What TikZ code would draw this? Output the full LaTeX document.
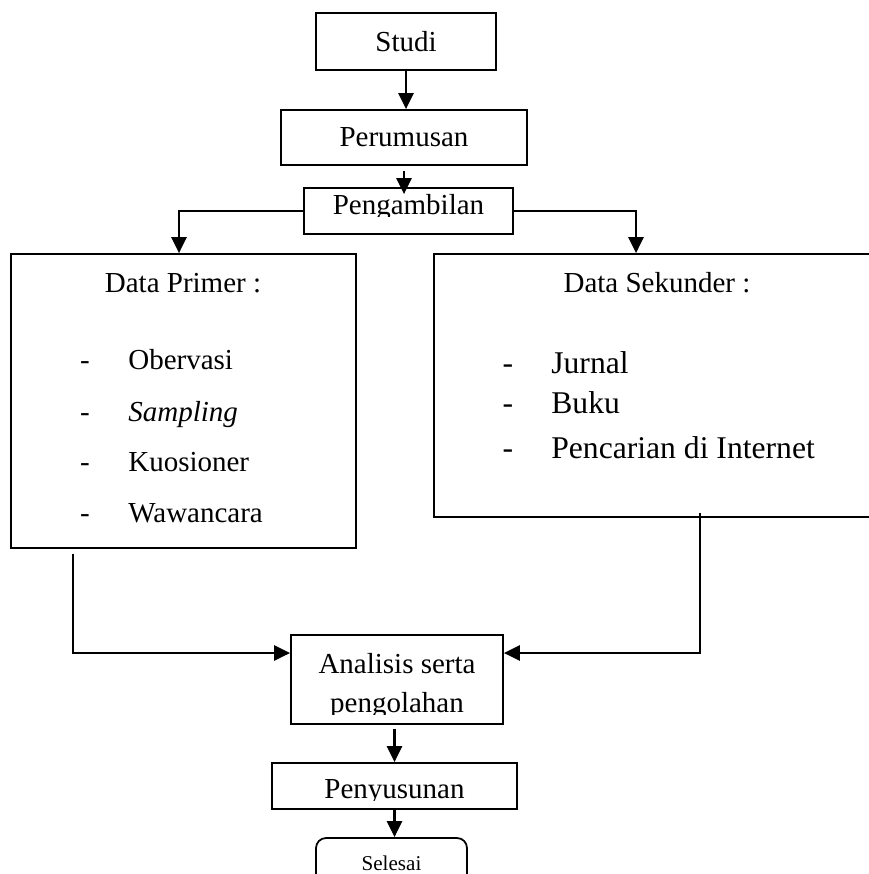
\documentclass[tikz,border=0pt]{standalone}
\usepackage{fontspec}
\setmainfont{Liberation Serif}
\usetikzlibrary{positioning,arrows.meta}
\tikzstyle{blok}=[draw, line width=1pt, inner sep=0pt]
\tikzstyle{isi}=[inner sep=0pt, anchor=base]
\tikzstyle{butir}=[inner sep=0pt, anchor=base west]
\tikzstyle{panah}=[-{Triangle[length=0.32cm,width=0.3cm]}, line width=1.4pt]
\newcommand{\besar}{\fontsize{18}{22}\selectfont}
\newcommand{\kecil}{\fontsize{12}{14}\selectfont}

\begin{document}
\begin{tikzpicture}[x=0.02cm,y=-0.02cm,font=\fontsize{16.5}{20}\selectfont]
\useasboundingbox (0,0) rectangle (868,874);

\node[blok, minimum width=3.6cm, minimum height=1.14cm] at (406,41.5) (studi) {Studi};
\node[blok, minimum width=4.92cm, minimum height=1.1cm] at (404,137.5) (rumus) {Perumusan};
\draw[panah] (studi.south) -- (studi.south |- rumus.north);

\node[blok, minimum width=4.18cm, minimum height=0.92cm] at (408.5,211) (ambil) {};
\begin{scope}
\clip (304,188) rectangle (513,217);
\node[isi] at (408.5,215) (tambil) {Pengambilan};
\end{scope}
\draw[panah] ([yshift=-0.1cm]rumus.south) -- ([yshift=-0.14cm]rumus.south |- ambil.north);

% data primer
\node[blok, minimum width=6.9cm, minimum height=5.88cm] at (183.5,401) (primer) {};
\node[isi] at (183,293) (jprimer) {Data Primer :};
\node[isi] at (85,369) (d1) {-};
\node[butir] at (128,369) (obs) {Obervasi};
\node[isi] at (85,421) (d2) {-};
\node[butir] at (128,421) (smp) {\textit{Sampling}};
\node[isi] at (85,471) (d3) {-};
\node[butir] at (128,471) (kuo) {Kuosioner};
\node[isi] at (85,522) (d4) {-};
\node[butir] at (128,522) (waw) {Wawancara};

% data sekunder
\node[blok, minimum width=8.92cm, minimum height=5.26cm] at (657,385.5) (sekunder) {};
\node[isi] at (657,293) (jsekunder) {Data Sekunder :};
\node[isi, font=\besar] at (508,373) (e1) {-};
\node[butir, font=\besar] at (551,373) (jur) {Jurnal};
\node[isi, font=\besar] at (508,413) (e2) {-};
\node[butir, font=\besar] at (551,413) (buk) {Buku};
\node[isi, font=\besar] at (508,458) (e3) {-};
\node[butir, font=\besar] at (551,458) (int) {Pencarian di Internet};

\draw[panah] (ambil.west) -| ([xshift=-0.09cm]primer.north);
\draw[panah] (ambil.east) -| ([xshift=-0.42cm]sekunder.north);

% analisis
\node[blok, minimum width=4.24cm, minimum height=1.78cm] at (397,679.5) (analisis) {};
\node[isi] at (397,673) (tanalisis) {Analisis serta};
\begin{scope}
\clip (291,680) rectangle (503,714);
\node[isi] at (397,712) (tolah) {pengolahan};
\end{scope}

\draw[panah] ([xshift=-2.21cm,yshift=-0.1cm]primer.south) |- ([yshift=0.53cm]analisis.west);
\draw[panah] ([xshift=0.86cm,yshift=0.1cm]sekunder.south) |- ([yshift=0.53cm]analisis.east);

% penyusunan
\node[blok, minimum width=4.9cm, minimum height=0.92cm] at (394.5,786) (susun) {};
\begin{scope}
\clip (272,763) rectangle (517,800);
\node[isi] at (394.5,798) (tsusun) {Penyusunan};
\end{scope}
\draw[panah] ([yshift=-0.08cm]analisis.south -| susun.north) -- (susun.north);

\node[blok, rounded corners=0.2cm, minimum width=3.02cm, minimum height=1.04cm] at (391.5,864) (selesai) {};
\node[isi, font=\kecil] at (391.5,870) (tselesai) {Selesai};
\draw[panah] (susun.south) -- (susun.south |- selesai.north);
\end{tikzpicture}
\end{document}
